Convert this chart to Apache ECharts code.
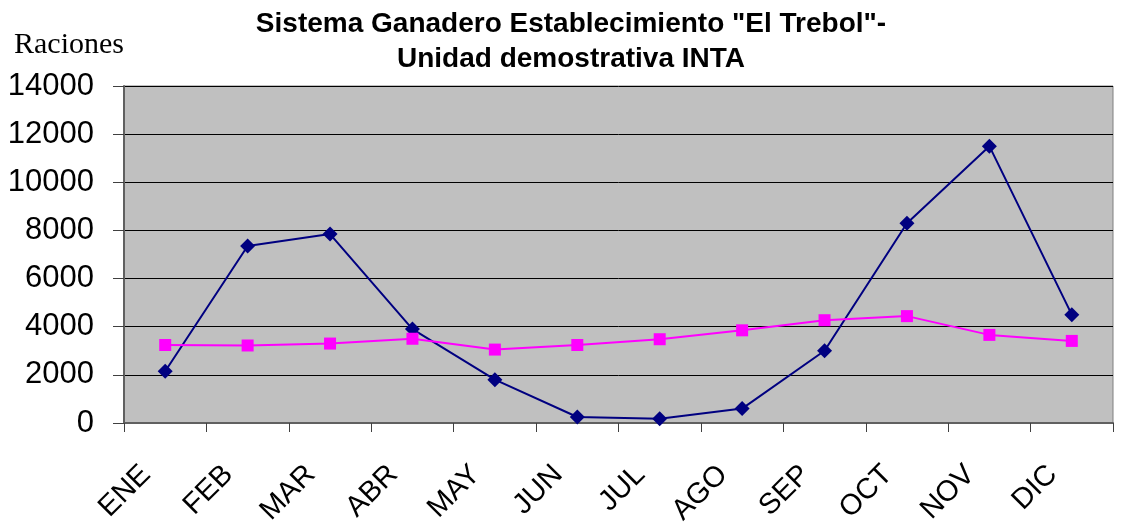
<!DOCTYPE html>
<html>
<head>
<meta charset="utf-8">
<script src="https://cdn.jsdelivr.net/npm/echarts@6/dist/echarts.min.js"></script>
<style>
  html, body { margin: 0; padding: 0; background: #fff; }
  #chart { width: 1131px; height: 524px; }
</style>
</head>
<body>
<div id="chart"></div>
<script>
// meses
const months = ['ENE', 'FEB', 'MAR', 'ABR', 'MAY', 'JUN', 'JUL', 'AGO', 'SEP', 'OCT', 'NOV', 'DIC'];
// oferta de raciones (azul)
const seriesA = [2150, 7350, 7850, 3900, 1800, 250, 180, 600, 3000, 8300, 11500, 4500];
// demanda de raciones (magenta)
const seriesB = [3240, 3220, 3300, 3500, 3050, 3240, 3480, 3850, 4270, 4440, 3660, 3410];

const chart = echarts.init(document.getElementById('chart'));

const option = {
    animation: false,
    backgroundColor: '#fff',
    title: [{
        text: 'Sistema Ganadero Establecimiento "El Trebol"-\nUnidad demostrativa INTA',
        left: 566,
        top: 2,
        textAlign: 'center',
        textStyle: {
            fontFamily: 'Arial, "Liberation Sans"',
            fontWeight: 'bold',
            fontSize: 28,
            lineHeight: 35,
            color: '#000'
        }
    }, {
        text: 'Raciones',
        left: 9,
        top: 25,
        textStyle: {
            fontFamily: '"Times New Roman", "Liberation Serif"',
            fontWeight: 'normal',
            fontSize: 30,
            color: '#000'
        }
    }],
    grid: {
        left: 124,
        right: 18,
        top: 86,
        bottom: 101,
        outerBoundsMode: 'none',
        show: true,
        backgroundColor: '#C0C0C0',
        borderColor: '#808080',
        borderWidth: 1
    },
    xAxis: {
        type: 'category',
        data: months,
        boundaryGap: true,
        axisLine: { lineStyle: { color: '#606060', width: 2 } },
        axisTick: { show: true, length: 9, lineStyle: { color: '#404040' } },
        axisLabel: {
            rotate: 45,
            margin: 28,
            padding: [0, 27, 0, 0],
            fontFamily: 'Arial, "Liberation Sans"',
            fontSize: 29,
            color: '#000',
            interval: 0
        },
        splitLine: { show: false }
    },
    yAxis: {
        type: 'value',
        min: 0,
        max: 14000,
        interval: 2000,
        axisLine: { show: true, lineStyle: { color: '#606060', width: 2 } },
        axisTick: { show: true, length: 11, lineStyle: { color: '#404040' } },
        axisLabel: {
            margin: 30,
            formatter: v => String(v),
            fontFamily: 'Arial, "Liberation Sans"',
            fontSize: 31,
            color: '#000'
        },
        splitLine: { show: true, lineStyle: { color: '#000', width: 1 } }
    },
    series: [{
        name: 'Oferta',
        type: 'line',
        data: seriesA,
        symbol: 'diamond',
        symbolSize: 15,
        itemStyle: { color: '#000080' },
        lineStyle: { color: '#000080', width: 2 }
    }, {
        name: 'Demanda',
        type: 'line',
        data: seriesB,
        symbol: 'rect',
        symbolSize: 12,
        itemStyle: { color: '#FF00FF' },
        lineStyle: { color: '#FF00FF', width: 2 }
    }]
};

chart.setOption(option);
</script>
</body>
</html>
